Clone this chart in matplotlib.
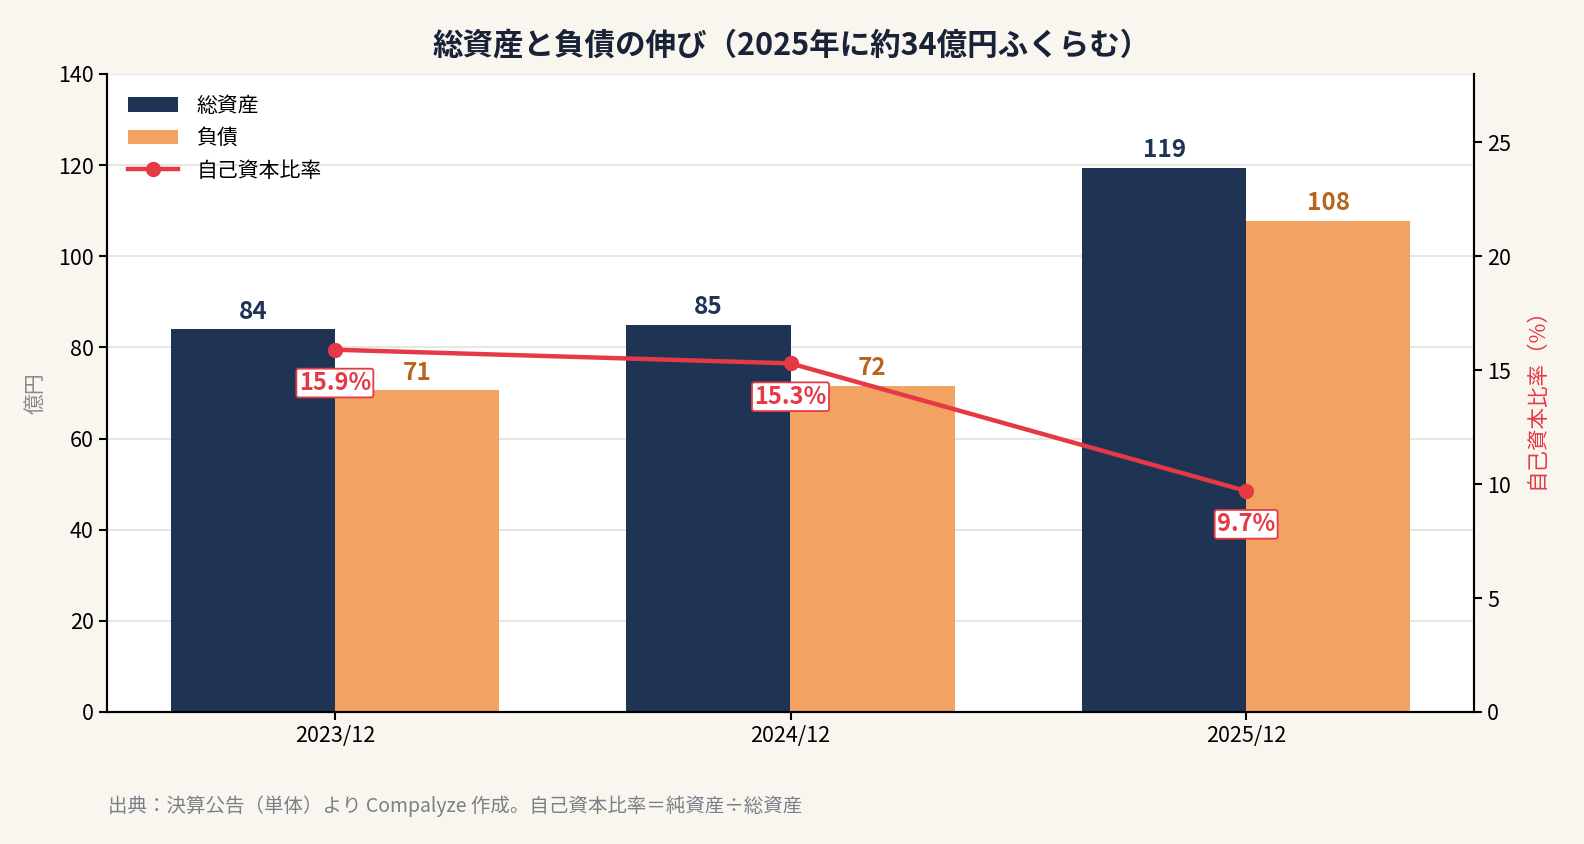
import numpy as np
import matplotlib.pyplot as plt

plt.rcParams['font.family'] = ['Noto Sans CJK JP', 'DejaVu Sans']

periods = ['2023/12', '2024/12', '2025/12']
total_assets = [84.0, 85.0, 119.4]
liabilities = [70.6, 71.6, 107.8]
equity_ratio = [15.9, 15.3, 9.7]

navy = '#1f3455'
orange = '#f2a361'
orange_txt = '#b5651d'
red = '#e63946'
bg = '#f9f6f0'

fig = plt.figure(figsize=(15.84, 8.44), dpi=100, facecolor=bg)
ax = fig.add_axes([107/1584, 1-712/844, (1474-107)/1584, (712-74)/844])
ax.set_facecolor('white')

x = np.arange(len(periods))
w = 0.36
ax.bar(x - w/2, total_assets, w, color=navy, label='総資産', zorder=2)
ax.bar(x + w/2, liabilities, w, color=orange, label='負債', zorder=2)

for xi, v in zip(x, total_assets):
    ax.annotate(f'{v:.0f}', (xi - w/2, v), xytext=(0, 4), textcoords='offset points',
                ha='center', va='bottom', fontsize=17.5, fontweight='bold', color=navy)
for xi, v in zip(x, liabilities):
    ax.annotate(f'{v:.0f}', (xi + w/2, v), xytext=(0, 4), textcoords='offset points',
                ha='center', va='bottom', fontsize=17.5, fontweight='bold', color=orange_txt)

ax.set_xlim(-0.5, 2.5)
ax.set_ylim(0, 140)
ax.set_yticks(range(0, 141, 20))
ax.set_xticks(x)
ax.set_xticklabels(periods)
ax.tick_params(labelsize=15.5, width=1.5, length=6)
ax.set_ylabel('億円', fontsize=15, color='#888888', labelpad=8)
ax.grid(axis='y', color='#e4e1da', linewidth=1.2, zorder=0)
ax.set_axisbelow(True)
ax.spines['top'].set_visible(False)
for s in ['left', 'bottom', 'right']:
    ax.spines[s].set_linewidth(1.5)

ax2 = ax.twinx()
ax2.plot(x, equity_ratio, color=red, linewidth=3.2, marker='o', markersize=10,
         label='自己資本比率', zorder=5)
for xi, v in zip(x, equity_ratio):
    ax2.annotate(f'{v}%', (xi, v), xytext=(0, -24), textcoords='offset points',
                 ha='center', va='center', fontsize=17, fontweight='semibold', color=red,
                 bbox=dict(boxstyle='round,pad=0.1', fc='white', ec=red, lw=1.3))
ax2.set_ylim(0, 28)
ax2.set_yticks(range(0, 26, 5))
ax2.tick_params(labelsize=15.5, width=1.5, length=6)
ax2.set_ylabel('自己資本比率（%）', fontsize=15.5, color=red, labelpad=10)
ax2.spines['top'].set_visible(False)
for s in ['left', 'bottom', 'right']:
    ax2.spines[s].set_linewidth(1.5)

h1, l1 = ax.get_legend_handles_labels()
h2, l2 = ax2.get_legend_handles_labels()
ax2.legend(h1 + h2, l1 + l2, loc='upper left', frameon=False, fontsize=15,
           borderaxespad=0.6, handlelength=2.4, labelspacing=0.5, handletextpad=0.9)

fig.suptitle('総資産と負債の伸び（2025年に約34億円ふくらむ）', fontsize=22,
             fontweight='bold', color='#1a2238', y=0.965)
fig.text(108/1584, 1-806/844, '出典：決算公告（単体）より Compalyze 作成。自己資本比率＝純資産÷総資産',
         fontsize=14, color='#7a7f88', va='center')

fig.savefig('out.png', dpi=100, facecolor=bg)
